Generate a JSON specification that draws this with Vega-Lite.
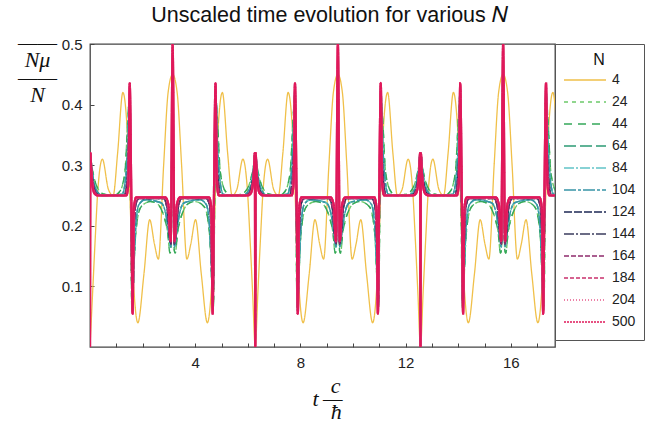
{
"$schema":"https://vega.github.io/schema/vega-lite/v6.json",
"width":465,"height":303,
"autosize":{"type":"none"},
"padding":{"left":90,"top":44,"right":91,"bottom":77},
"background":"white",
"title":{"text":"Unscaled time evolution for various 𝑁","font":"Liberation Sans","fontSize":21.5,"fontWeight":"normal","color":"#111","anchor":"middle","frame":"group","dx":7,"offset":5},
"config":{
"view":{"stroke":"#444","strokeWidth":1.3},
"axis":{"labelFont":"Liberation Sans","labelFontSize":15,"labelColor":"#222","titleFont":"Liberation Serif","titleFontStyle":"italic","titleFontWeight":"normal","titleFontSize":22,"titleColor":"#111","tickColor":"#444","domain":false,"grid":false},
"legend":{"orient":"right","offset":0,"padding":8,"strokeColor":"#555","fillColor":"white","symbolType":"stroke","symbolSize":1764,"symbolStrokeWidth":1.5,"clipHeight":20,"rowPadding":2,"titlePadding":2,"titleFontSize":16,"titleFontWeight":"normal","titleFont":"Liberation Sans","titleColor":"#111","titleAnchor":"middle","labelFont":"Liberation Sans","labelFontSize":14,"labelColor":"#222","labelOffset":5}
},
"datasets":{
"dY":[{"t":0,"4":0},{"t":0.1,"4":0.09},{"t":0.2,"4":0.18},{"t":0.3,"4":0.26},{"t":0.47,"4":0.31},{"t":0.7,"4":0.26},{"t":0.88,"4":0.25},{"t":1.05,"4":0.32},{"t":1.25,"4":0.42},{"t":1.45,"4":0.33},{"t":1.6,"4":0.15},{"t":1.82,"4":0.04},{"t":2.05,"4":0.12},{"t":2.27,"4":0.21},{"t":2.45,"4":0.17},{"t":2.6,"4":0.145},{"t":2.8,"4":0.3},{"t":2.97,"4":0.42},{"t":3.142,"4":0.45},{"t":3.313,"4":0.42},{"t":3.483,"4":0.3},{"t":3.683,"4":0.145},{"t":3.833,"4":0.17},{"t":4.013,"4":0.21},{"t":4.233,"4":0.12},{"t":4.463,"4":0.04},{"t":4.683,"4":0.15},{"t":4.833,"4":0.33},{"t":5.033,"4":0.42},{"t":5.233,"4":0.32},{"t":5.403,"4":0.25},{"t":5.583,"4":0.26},{"t":5.813,"4":0.31},{"t":5.983,"4":0.26},{"t":6.083,"4":0.18},{"t":6.183,"4":0.09},
{"t":6.283,"4":0},{"t":6.383,"4":0.09},{"t":6.483,"4":0.18},{"t":6.583,"4":0.26},{"t":6.753,"4":0.31},{"t":6.983,"4":0.26},{"t":7.163,"4":0.25},{"t":7.333,"4":0.32},{"t":7.533,"4":0.42},{"t":7.733,"4":0.33},{"t":7.883,"4":0.15},{"t":8.103,"4":0.04},{"t":8.333,"4":0.12},{"t":8.553,"4":0.21},{"t":8.733,"4":0.17},{"t":8.883,"4":0.145},{"t":9.083,"4":0.3},{"t":9.253,"4":0.42},{"t":9.425,"4":0.45},{"t":9.596,"4":0.42},{"t":9.766,"4":0.3},{"t":9.966,"4":0.145},{"t":10.116,"4":0.17},{"t":10.296,"4":0.21},{"t":10.516,"4":0.12},{"t":10.746,"4":0.04},{"t":10.966,"4":0.15},{"t":11.116,"4":0.33},{"t":11.316,"4":0.42},{"t":11.516,"4":0.32},{"t":11.686,"4":0.25},{"t":11.866,"4":0.26},{"t":12.096,"4":0.31},{"t":12.266,"4":0.26},{"t":12.366,"4":0.18},{"t":12.466,"4":0.09},
{"t":12.566,"4":0},{"t":12.666,"4":0.09},{"t":12.766,"4":0.18},{"t":12.866,"4":0.26},{"t":13.036,"4":0.31},{"t":13.266,"4":0.26},{"t":13.446,"4":0.25},{"t":13.616,"4":0.32},{"t":13.816,"4":0.42},{"t":14.016,"4":0.33},{"t":14.166,"4":0.15},{"t":14.386,"4":0.04},{"t":14.616,"4":0.12},{"t":14.836,"4":0.21},{"t":15.016,"4":0.17},{"t":15.166,"4":0.145},{"t":15.366,"4":0.3},{"t":15.536,"4":0.42},{"t":15.708,"4":0.45},{"t":15.879,"4":0.42},{"t":16.049,"4":0.3},{"t":16.249,"4":0.145},{"t":16.399,"4":0.17},{"t":16.579,"4":0.21},{"t":16.799,"4":0.12},{"t":17.029,"4":0.04},{"t":17.249,"4":0.15},{"t":17.399,"4":0.33},{"t":17.599,"4":0.42},{"t":17.799,"4":0.32}],
"dA":[{"t":0,"24":0,"44":0},{"t":0.02,"24":0.31,"44":0.31},{"t":0.08,"24":0.295,"44":0.295},{"t":0.2,"24":0.272,"44":0.272},{"t":0.35,"24":0.258,"44":0.258},{"t":0.55,"24":0.252,"44":0.252},{"t":0.9,"24":0.25,"44":0.25},{"t":1.1,"24":0.255,"44":0.255},{"t":1.25,"24":0.27,"44":0.27},{"t":1.35,"24":0.3,"44":0.3},{"t":1.43,"24":0.37,"44":0.37},{"t":1.48,"24":0.4,"44":0.4},{"t":1.54,"24":0.25,"44":0.25},{"t":1.59,"24":0.065,"44":0.065},{"t":1.63,"24":0.08,"44":0.08},{"t":1.7,"24":0.16,"44":0.16},{"t":1.8,"24":0.21,"44":0.21},{"t":1.95,"24":0.232,"44":0.232},{"t":2.3,"24":0.24,"44":0.24},{"t":2.5,"24":0.238,"44":0.238},{"t":2.7,"24":0.228,"44":0.228},{"t":2.85,"24":0.21,"44":0.21},{"t":2.95,"24":0.19,"44":0.19},{"t":3.04,"24":0.155,"44":0.155},{"t":3.08,"24":0.16,"44":0.16},{"t":3.142,"24":0.42,"44":0.42},{"t":3.203,"24":0.16,"44":0.16},{"t":3.243,"24":0.155,"44":0.155},{"t":3.333,"24":0.19,"44":0.19},{"t":3.433,"24":0.21,"44":0.21},{"t":3.583,"24":0.228,"44":0.228},{"t":3.783,"24":0.238,"44":0.238},{"t":3.983,"24":0.24,"44":0.24},{"t":4.333,"24":0.232,"44":0.232},{"t":4.483,"24":0.21,"44":0.21},{"t":4.583,"24":0.16,"44":0.16},{"t":4.653,"24":0.08,"44":0.08},{"t":4.693,"24":0.065,"44":0.065},{"t":4.743,"24":0.25,"44":0.25},{"t":4.803,"24":0.4,"44":0.4},{"t":4.853,"24":0.37,"44":0.37},{"t":4.933,"24":0.3,"44":0.3},{"t":5.033,"24":0.27,"44":0.27},{"t":5.183,"24":0.255,"44":0.255},{"t":5.383,"24":0.25,"44":0.25},{"t":5.733,"24":0.252,"44":0.252},{"t":5.933,"24":0.258,"44":0.258},{"t":6.083,"24":0.272,"44":0.272},{"t":6.203,"24":0.295,"44":0.295},{"t":6.263,"24":0.31,"44":0.31},
{"t":6.283,"24":0,"44":0},{"t":6.303,"24":0.31,"44":0.31},{"t":6.363,"24":0.295,"44":0.295},{"t":6.483,"24":0.272,"44":0.272},{"t":6.633,"24":0.258,"44":0.258},{"t":6.833,"24":0.252,"44":0.252},{"t":7.183,"24":0.25,"44":0.25},{"t":7.383,"24":0.255,"44":0.255},{"t":7.533,"24":0.27,"44":0.27},{"t":7.633,"24":0.3,"44":0.3},{"t":7.713,"24":0.37,"44":0.37},{"t":7.763,"24":0.4,"44":0.4},{"t":7.823,"24":0.25,"44":0.25},{"t":7.873,"24":0.065,"44":0.065},{"t":7.913,"24":0.08,"44":0.08},{"t":7.983,"24":0.16,"44":0.16},{"t":8.083,"24":0.21,"44":0.21},{"t":8.233,"24":0.232,"44":0.232},{"t":8.583,"24":0.24,"44":0.24},{"t":8.783,"24":0.238,"44":0.238},{"t":8.983,"24":0.228,"44":0.228},{"t":9.133,"24":0.21,"44":0.21},{"t":9.233,"24":0.19,"44":0.19},{"t":9.323,"24":0.155,"44":0.155},{"t":9.363,"24":0.16,"44":0.16},{"t":9.425,"24":0.42,"44":0.42},{"t":9.486,"24":0.16,"44":0.16},{"t":9.526,"24":0.155,"44":0.155},{"t":9.616,"24":0.19,"44":0.19},{"t":9.716,"24":0.21,"44":0.21},{"t":9.866,"24":0.228,"44":0.228},{"t":10.066,"24":0.238,"44":0.238},{"t":10.266,"24":0.24,"44":0.24},{"t":10.616,"24":0.232,"44":0.232},{"t":10.766,"24":0.21,"44":0.21},{"t":10.866,"24":0.16,"44":0.16},{"t":10.936,"24":0.08,"44":0.08},{"t":10.976,"24":0.065,"44":0.065},{"t":11.026,"24":0.25,"44":0.25},{"t":11.086,"24":0.4,"44":0.4},{"t":11.136,"24":0.37,"44":0.37},{"t":11.216,"24":0.3,"44":0.3},{"t":11.316,"24":0.27,"44":0.27},{"t":11.466,"24":0.255,"44":0.255},{"t":11.666,"24":0.25,"44":0.25},{"t":12.016,"24":0.252,"44":0.252},{"t":12.216,"24":0.258,"44":0.258},{"t":12.366,"24":0.272,"44":0.272},{"t":12.486,"24":0.295,"44":0.295},{"t":12.546,"24":0.31,"44":0.31},
{"t":12.566,"24":0,"44":0},{"t":12.586,"24":0.31,"44":0.31},{"t":12.646,"24":0.295,"44":0.295},{"t":12.766,"24":0.272,"44":0.272},{"t":12.916,"24":0.258,"44":0.258},{"t":13.116,"24":0.252,"44":0.252},{"t":13.466,"24":0.25,"44":0.25},{"t":13.666,"24":0.255,"44":0.255},{"t":13.816,"24":0.27,"44":0.27},{"t":13.916,"24":0.3,"44":0.3},{"t":13.996,"24":0.37,"44":0.37},{"t":14.046,"24":0.4,"44":0.4},{"t":14.106,"24":0.25,"44":0.25},{"t":14.156,"24":0.065,"44":0.065},{"t":14.196,"24":0.08,"44":0.08},{"t":14.266,"24":0.16,"44":0.16},{"t":14.366,"24":0.21,"44":0.21},{"t":14.516,"24":0.232,"44":0.232},{"t":14.866,"24":0.24,"44":0.24},{"t":15.066,"24":0.238,"44":0.238},{"t":15.266,"24":0.228,"44":0.228},{"t":15.416,"24":0.21,"44":0.21},{"t":15.516,"24":0.19,"44":0.19},{"t":15.606,"24":0.155,"44":0.155},{"t":15.646,"24":0.16,"44":0.16},{"t":15.708,"24":0.42,"44":0.42},{"t":15.769,"24":0.16,"44":0.16},{"t":15.809,"24":0.155,"44":0.155},{"t":15.899,"24":0.19,"44":0.19},{"t":15.999,"24":0.21,"44":0.21},{"t":16.149,"24":0.228,"44":0.228},{"t":16.349,"24":0.238,"44":0.238},{"t":16.549,"24":0.24,"44":0.24},{"t":16.899,"24":0.232,"44":0.232},{"t":17.049,"24":0.21,"44":0.21},{"t":17.149,"24":0.16,"44":0.16},{"t":17.219,"24":0.08,"44":0.08},{"t":17.259,"24":0.065,"44":0.065},{"t":17.309,"24":0.25,"44":0.25},{"t":17.369,"24":0.4,"44":0.4},{"t":17.419,"24":0.37,"44":0.37},{"t":17.499,"24":0.3,"44":0.3},{"t":17.599,"24":0.27,"44":0.27},{"t":17.749,"24":0.255,"44":0.255}],
"dB":[{"t":0,"64":0,"84":0,"104":0},{"t":0.015,"64":0.32,"84":0.32,"104":0.32},{"t":0.07,"64":0.295,"84":0.295,"104":0.295},{"t":0.17,"64":0.268,"84":0.268,"104":0.268},{"t":0.3,"64":0.255,"84":0.255,"104":0.255},{"t":0.48,"64":0.25,"84":0.25,"104":0.25},{"t":1.22,"64":0.252,"84":0.252,"104":0.252},{"t":1.33,"64":0.27,"84":0.27,"104":0.27},{"t":1.43,"64":0.33,"84":0.33,"104":0.33},{"t":1.5,"64":0.42,"84":0.42,"104":0.42},{"t":1.56,"64":0.25,"84":0.25,"104":0.25},{"t":1.61,"64":0.06,"84":0.06,"104":0.06},{"t":1.66,"64":0.12,"84":0.12,"104":0.12},{"t":1.74,"64":0.2,"84":0.2,"104":0.2},{"t":1.86,"64":0.235,"84":0.235,"104":0.235},{"t":2.1,"64":0.243,"84":0.243,"104":0.243},{"t":2.7,"64":0.238,"84":0.238,"104":0.238},{"t":2.88,"64":0.22,"84":0.22,"104":0.22},{"t":3.0,"64":0.185,"84":0.185,"104":0.185},{"t":3.07,"64":0.165,"84":0.165,"104":0.165},{"t":3.142,"64":0.46,"84":0.46,"104":0.46},{"t":3.213,"64":0.165,"84":0.165,"104":0.165},{"t":3.283,"64":0.185,"84":0.185,"104":0.185},{"t":3.403,"64":0.22,"84":0.22,"104":0.22},{"t":3.583,"64":0.238,"84":0.238,"104":0.238},{"t":4.183,"64":0.243,"84":0.243,"104":0.243},{"t":4.423,"64":0.235,"84":0.235,"104":0.235},{"t":4.543,"64":0.2,"84":0.2,"104":0.2},{"t":4.623,"64":0.12,"84":0.12,"104":0.12},{"t":4.673,"64":0.06,"84":0.06,"104":0.06},{"t":4.723,"64":0.25,"84":0.25,"104":0.25},{"t":4.783,"64":0.42,"84":0.42,"104":0.42},{"t":4.853,"64":0.33,"84":0.33,"104":0.33},{"t":4.953,"64":0.27,"84":0.27,"104":0.27},{"t":5.063,"64":0.252,"84":0.252,"104":0.252},{"t":5.803,"64":0.25,"84":0.25,"104":0.25},{"t":5.983,"64":0.255,"84":0.255,"104":0.255},{"t":6.113,"64":0.268,"84":0.268,"104":0.268},{"t":6.213,"64":0.295,"84":0.295,"104":0.295},{"t":6.268,"64":0.32,"84":0.32,"104":0.32},
{"t":6.283,"64":0,"84":0,"104":0},{"t":6.298,"64":0.32,"84":0.32,"104":0.32},{"t":6.353,"64":0.295,"84":0.295,"104":0.295},{"t":6.453,"64":0.268,"84":0.268,"104":0.268},{"t":6.583,"64":0.255,"84":0.255,"104":0.255},{"t":6.763,"64":0.25,"84":0.25,"104":0.25},{"t":7.503,"64":0.252,"84":0.252,"104":0.252},{"t":7.613,"64":0.27,"84":0.27,"104":0.27},{"t":7.713,"64":0.33,"84":0.33,"104":0.33},{"t":7.783,"64":0.42,"84":0.42,"104":0.42},{"t":7.843,"64":0.25,"84":0.25,"104":0.25},{"t":7.893,"64":0.06,"84":0.06,"104":0.06},{"t":7.943,"64":0.12,"84":0.12,"104":0.12},{"t":8.023,"64":0.2,"84":0.2,"104":0.2},{"t":8.143,"64":0.235,"84":0.235,"104":0.235},{"t":8.383,"64":0.243,"84":0.243,"104":0.243},{"t":8.983,"64":0.238,"84":0.238,"104":0.238},{"t":9.163,"64":0.22,"84":0.22,"104":0.22},{"t":9.283,"64":0.185,"84":0.185,"104":0.185},{"t":9.353,"64":0.165,"84":0.165,"104":0.165},{"t":9.425,"64":0.46,"84":0.46,"104":0.46},{"t":9.496,"64":0.165,"84":0.165,"104":0.165},{"t":9.566,"64":0.185,"84":0.185,"104":0.185},{"t":9.686,"64":0.22,"84":0.22,"104":0.22},{"t":9.866,"64":0.238,"84":0.238,"104":0.238},{"t":10.466,"64":0.243,"84":0.243,"104":0.243},{"t":10.706,"64":0.235,"84":0.235,"104":0.235},{"t":10.826,"64":0.2,"84":0.2,"104":0.2},{"t":10.906,"64":0.12,"84":0.12,"104":0.12},{"t":10.956,"64":0.06,"84":0.06,"104":0.06},{"t":11.006,"64":0.25,"84":0.25,"104":0.25},{"t":11.066,"64":0.42,"84":0.42,"104":0.42},{"t":11.136,"64":0.33,"84":0.33,"104":0.33},{"t":11.236,"64":0.27,"84":0.27,"104":0.27},{"t":11.346,"64":0.252,"84":0.252,"104":0.252},{"t":12.086,"64":0.25,"84":0.25,"104":0.25},{"t":12.266,"64":0.255,"84":0.255,"104":0.255},{"t":12.396,"64":0.268,"84":0.268,"104":0.268},{"t":12.496,"64":0.295,"84":0.295,"104":0.295},{"t":12.551,"64":0.32,"84":0.32,"104":0.32},
{"t":12.566,"64":0,"84":0,"104":0},{"t":12.581,"64":0.32,"84":0.32,"104":0.32},{"t":12.636,"64":0.295,"84":0.295,"104":0.295},{"t":12.736,"64":0.268,"84":0.268,"104":0.268},{"t":12.866,"64":0.255,"84":0.255,"104":0.255},{"t":13.046,"64":0.25,"84":0.25,"104":0.25},{"t":13.786,"64":0.252,"84":0.252,"104":0.252},{"t":13.896,"64":0.27,"84":0.27,"104":0.27},{"t":13.996,"64":0.33,"84":0.33,"104":0.33},{"t":14.066,"64":0.42,"84":0.42,"104":0.42},{"t":14.126,"64":0.25,"84":0.25,"104":0.25},{"t":14.176,"64":0.06,"84":0.06,"104":0.06},{"t":14.226,"64":0.12,"84":0.12,"104":0.12},{"t":14.306,"64":0.2,"84":0.2,"104":0.2},{"t":14.426,"64":0.235,"84":0.235,"104":0.235},{"t":14.666,"64":0.243,"84":0.243,"104":0.243},{"t":15.266,"64":0.238,"84":0.238,"104":0.238},{"t":15.446,"64":0.22,"84":0.22,"104":0.22},{"t":15.566,"64":0.185,"84":0.185,"104":0.185},{"t":15.636,"64":0.165,"84":0.165,"104":0.165},{"t":15.708,"64":0.46,"84":0.46,"104":0.46},{"t":15.779,"64":0.165,"84":0.165,"104":0.165},{"t":15.849,"64":0.185,"84":0.185,"104":0.185},{"t":15.969,"64":0.22,"84":0.22,"104":0.22},{"t":16.149,"64":0.238,"84":0.238,"104":0.238},{"t":16.749,"64":0.243,"84":0.243,"104":0.243},{"t":16.989,"64":0.235,"84":0.235,"104":0.235},{"t":17.109,"64":0.2,"84":0.2,"104":0.2},{"t":17.189,"64":0.12,"84":0.12,"104":0.12},{"t":17.239,"64":0.06,"84":0.06,"104":0.06},{"t":17.289,"64":0.25,"84":0.25,"104":0.25},{"t":17.349,"64":0.42,"84":0.42,"104":0.42},{"t":17.419,"64":0.33,"84":0.33,"104":0.33},{"t":17.519,"64":0.27,"84":0.27,"104":0.27},{"t":17.629,"64":0.252,"84":0.252,"104":0.252},{"t":18.369,"64":0.25,"84":0.25,"104":0.25}],
"dC":[{"t":0,"124":0,"144":0,"164":0},{"t":0.015,"124":0.32,"144":0.32,"164":0.32},{"t":0.06,"124":0.29,"144":0.29,"164":0.29},{"t":0.14,"124":0.265,"144":0.265,"164":0.265},{"t":0.25,"124":0.253,"144":0.253,"164":0.253},{"t":0.4,"124":0.25,"144":0.25,"164":0.25},{"t":1.3,"124":0.25,"144":0.25,"164":0.25},{"t":1.4,"124":0.27,"144":0.27,"164":0.27},{"t":1.47,"124":0.33,"144":0.33,"164":0.33},{"t":1.51,"124":0.43,"144":0.43,"164":0.43},{"t":1.565,"124":0.25,"144":0.25,"164":0.25},{"t":1.615,"124":0.058,"144":0.058,"164":0.058},{"t":1.66,"124":0.17,"144":0.17,"164":0.17},{"t":1.74,"124":0.235,"144":0.235,"164":0.235},{"t":1.86,"124":0.245,"144":0.245,"164":0.245},{"t":2.8,"124":0.245,"144":0.245,"164":0.245},{"t":2.93,"124":0.23,"144":0.23,"164":0.23},{"t":3.03,"124":0.18,"144":0.18,"164":0.18},{"t":3.08,"124":0.17,"144":0.17,"164":0.17},{"t":3.142,"124":0.48,"144":0.48,"164":0.48},{"t":3.203,"124":0.17,"144":0.17,"164":0.17},{"t":3.253,"124":0.18,"144":0.18,"164":0.18},{"t":3.353,"124":0.23,"144":0.23,"164":0.23},{"t":3.483,"124":0.245,"144":0.245,"164":0.245},{"t":4.423,"124":0.245,"144":0.245,"164":0.245},{"t":4.543,"124":0.235,"144":0.235,"164":0.235},{"t":4.623,"124":0.17,"144":0.17,"164":0.17},{"t":4.668,"124":0.058,"144":0.058,"164":0.058},{"t":4.718,"124":0.25,"144":0.25,"164":0.25},{"t":4.773,"124":0.43,"144":0.43,"164":0.43},{"t":4.813,"124":0.33,"144":0.33,"164":0.33},{"t":4.883,"124":0.27,"144":0.27,"164":0.27},{"t":4.983,"124":0.25,"144":0.25,"164":0.25},{"t":5.883,"124":0.25,"144":0.25,"164":0.25},{"t":6.033,"124":0.253,"144":0.253,"164":0.253},{"t":6.143,"124":0.265,"144":0.265,"164":0.265},{"t":6.223,"124":0.29,"144":0.29,"164":0.29},{"t":6.268,"124":0.32,"144":0.32,"164":0.32},
{"t":6.283,"124":0,"144":0,"164":0},{"t":6.298,"124":0.32,"144":0.32,"164":0.32},{"t":6.343,"124":0.29,"144":0.29,"164":0.29},{"t":6.423,"124":0.265,"144":0.265,"164":0.265},{"t":6.533,"124":0.253,"144":0.253,"164":0.253},{"t":6.683,"124":0.25,"144":0.25,"164":0.25},{"t":7.583,"124":0.25,"144":0.25,"164":0.25},{"t":7.683,"124":0.27,"144":0.27,"164":0.27},{"t":7.753,"124":0.33,"144":0.33,"164":0.33},{"t":7.793,"124":0.43,"144":0.43,"164":0.43},{"t":7.848,"124":0.25,"144":0.25,"164":0.25},{"t":7.898,"124":0.058,"144":0.058,"164":0.058},{"t":7.943,"124":0.17,"144":0.17,"164":0.17},{"t":8.023,"124":0.235,"144":0.235,"164":0.235},{"t":8.143,"124":0.245,"144":0.245,"164":0.245},{"t":9.083,"124":0.245,"144":0.245,"164":0.245},{"t":9.213,"124":0.23,"144":0.23,"164":0.23},{"t":9.313,"124":0.18,"144":0.18,"164":0.18},{"t":9.363,"124":0.17,"144":0.17,"164":0.17},{"t":9.425,"124":0.48,"144":0.48,"164":0.48},{"t":9.486,"124":0.17,"144":0.17,"164":0.17},{"t":9.536,"124":0.18,"144":0.18,"164":0.18},{"t":9.636,"124":0.23,"144":0.23,"164":0.23},{"t":9.766,"124":0.245,"144":0.245,"164":0.245},{"t":10.706,"124":0.245,"144":0.245,"164":0.245},{"t":10.826,"124":0.235,"144":0.235,"164":0.235},{"t":10.906,"124":0.17,"144":0.17,"164":0.17},{"t":10.951,"124":0.058,"144":0.058,"164":0.058},{"t":11.001,"124":0.25,"144":0.25,"164":0.25},{"t":11.056,"124":0.43,"144":0.43,"164":0.43},{"t":11.096,"124":0.33,"144":0.33,"164":0.33},{"t":11.166,"124":0.27,"144":0.27,"164":0.27},{"t":11.266,"124":0.25,"144":0.25,"164":0.25},{"t":12.166,"124":0.25,"144":0.25,"164":0.25},{"t":12.316,"124":0.253,"144":0.253,"164":0.253},{"t":12.426,"124":0.265,"144":0.265,"164":0.265},{"t":12.506,"124":0.29,"144":0.29,"164":0.29},{"t":12.551,"124":0.32,"144":0.32,"164":0.32},
{"t":12.566,"124":0,"144":0,"164":0},{"t":12.581,"124":0.32,"144":0.32,"164":0.32},{"t":12.626,"124":0.29,"144":0.29,"164":0.29},{"t":12.706,"124":0.265,"144":0.265,"164":0.265},{"t":12.816,"124":0.253,"144":0.253,"164":0.253},{"t":12.966,"124":0.25,"144":0.25,"164":0.25},{"t":13.866,"124":0.25,"144":0.25,"164":0.25},{"t":13.966,"124":0.27,"144":0.27,"164":0.27},{"t":14.036,"124":0.33,"144":0.33,"164":0.33},{"t":14.076,"124":0.43,"144":0.43,"164":0.43},{"t":14.131,"124":0.25,"144":0.25,"164":0.25},{"t":14.181,"124":0.058,"144":0.058,"164":0.058},{"t":14.226,"124":0.17,"144":0.17,"164":0.17},{"t":14.306,"124":0.235,"144":0.235,"164":0.235},{"t":14.426,"124":0.245,"144":0.245,"164":0.245},{"t":15.366,"124":0.245,"144":0.245,"164":0.245},{"t":15.496,"124":0.23,"144":0.23,"164":0.23},{"t":15.596,"124":0.18,"144":0.18,"164":0.18},{"t":15.646,"124":0.17,"144":0.17,"164":0.17},{"t":15.708,"124":0.48,"144":0.48,"164":0.48},{"t":15.769,"124":0.17,"144":0.17,"164":0.17},{"t":15.819,"124":0.18,"144":0.18,"164":0.18},{"t":15.919,"124":0.23,"144":0.23,"164":0.23},{"t":16.049,"124":0.245,"144":0.245,"164":0.245},{"t":16.989,"124":0.245,"144":0.245,"164":0.245},{"t":17.109,"124":0.235,"144":0.235,"164":0.235},{"t":17.189,"124":0.17,"144":0.17,"164":0.17},{"t":17.234,"124":0.058,"144":0.058,"164":0.058},{"t":17.284,"124":0.25,"144":0.25,"164":0.25},{"t":17.339,"124":0.43,"144":0.43,"164":0.43},{"t":17.379,"124":0.33,"144":0.33,"164":0.33},{"t":17.449,"124":0.27,"144":0.27,"164":0.27},{"t":17.549,"124":0.25,"144":0.25,"164":0.25},{"t":18.449,"124":0.25,"144":0.25,"164":0.25}],
"dD":[{"t":0,"184":0,"204":0,"500":0},{"t":0.015,"184":0.32,"204":0.32,"500":0.32},{"t":0.05,"184":0.29,"204":0.29,"500":0.29},{"t":0.1,"184":0.265,"204":0.265,"500":0.265},{"t":0.18,"184":0.253,"204":0.253,"500":0.253},{"t":0.3,"184":0.25,"204":0.25,"500":0.25},{"t":1.38,"184":0.25,"204":0.25,"500":0.25},{"t":1.46,"184":0.27,"204":0.27,"500":0.27},{"t":1.51,"184":0.435,"204":0.435,"500":0.435},{"t":1.57,"184":0.25,"204":0.25,"500":0.25},{"t":1.62,"184":0.055,"204":0.055,"500":0.055},{"t":1.67,"184":0.23,"204":0.23,"500":0.23},{"t":1.76,"184":0.247,"204":0.247,"500":0.247},{"t":2.86,"184":0.247,"204":0.247,"500":0.247},{"t":2.98,"184":0.235,"204":0.235,"500":0.235},{"t":3.07,"184":0.175,"204":0.175,"500":0.175},{"t":3.142,"184":0.5,"204":0.5,"500":0.5},{"t":3.213,"184":0.175,"204":0.175,"500":0.175},{"t":3.303,"184":0.235,"204":0.235,"500":0.235},{"t":3.423,"184":0.247,"204":0.247,"500":0.247},{"t":4.523,"184":0.247,"204":0.247,"500":0.247},{"t":4.613,"184":0.23,"204":0.23,"500":0.23},{"t":4.663,"184":0.055,"204":0.055,"500":0.055},{"t":4.713,"184":0.25,"204":0.25,"500":0.25},{"t":4.773,"184":0.435,"204":0.435,"500":0.435},{"t":4.823,"184":0.27,"204":0.27,"500":0.27},{"t":4.903,"184":0.25,"204":0.25,"500":0.25},{"t":5.983,"184":0.25,"204":0.25,"500":0.25},{"t":6.103,"184":0.253,"204":0.253,"500":0.253},{"t":6.183,"184":0.265,"204":0.265,"500":0.265},{"t":6.233,"184":0.29,"204":0.29,"500":0.29},{"t":6.268,"184":0.32,"204":0.32,"500":0.32},
{"t":6.283,"184":0,"204":0,"500":0},{"t":6.298,"184":0.32,"204":0.32,"500":0.32},{"t":6.333,"184":0.29,"204":0.29,"500":0.29},{"t":6.383,"184":0.265,"204":0.265,"500":0.265},{"t":6.463,"184":0.253,"204":0.253,"500":0.253},{"t":6.583,"184":0.25,"204":0.25,"500":0.25},{"t":7.663,"184":0.25,"204":0.25,"500":0.25},{"t":7.743,"184":0.27,"204":0.27,"500":0.27},{"t":7.793,"184":0.435,"204":0.435,"500":0.435},{"t":7.853,"184":0.25,"204":0.25,"500":0.25},{"t":7.903,"184":0.055,"204":0.055,"500":0.055},{"t":7.953,"184":0.23,"204":0.23,"500":0.23},{"t":8.043,"184":0.247,"204":0.247,"500":0.247},{"t":9.143,"184":0.247,"204":0.247,"500":0.247},{"t":9.263,"184":0.235,"204":0.235,"500":0.235},{"t":9.353,"184":0.175,"204":0.175,"500":0.175},{"t":9.425,"184":0.5,"204":0.5,"500":0.5},{"t":9.496,"184":0.175,"204":0.175,"500":0.175},{"t":9.586,"184":0.235,"204":0.235,"500":0.235},{"t":9.706,"184":0.247,"204":0.247,"500":0.247},{"t":10.806,"184":0.247,"204":0.247,"500":0.247},{"t":10.896,"184":0.23,"204":0.23,"500":0.23},{"t":10.946,"184":0.055,"204":0.055,"500":0.055},{"t":10.996,"184":0.25,"204":0.25,"500":0.25},{"t":11.056,"184":0.435,"204":0.435,"500":0.435},{"t":11.106,"184":0.27,"204":0.27,"500":0.27},{"t":11.186,"184":0.25,"204":0.25,"500":0.25},{"t":12.266,"184":0.25,"204":0.25,"500":0.25},{"t":12.386,"184":0.253,"204":0.253,"500":0.253},{"t":12.466,"184":0.265,"204":0.265,"500":0.265},{"t":12.516,"184":0.29,"204":0.29,"500":0.29},{"t":12.551,"184":0.32,"204":0.32,"500":0.32},
{"t":12.566,"184":0,"204":0,"500":0},{"t":12.581,"184":0.32,"204":0.32,"500":0.32},{"t":12.616,"184":0.29,"204":0.29,"500":0.29},{"t":12.666,"184":0.265,"204":0.265,"500":0.265},{"t":12.746,"184":0.253,"204":0.253,"500":0.253},{"t":12.866,"184":0.25,"204":0.25,"500":0.25},{"t":13.946,"184":0.25,"204":0.25,"500":0.25},{"t":14.026,"184":0.27,"204":0.27,"500":0.27},{"t":14.076,"184":0.435,"204":0.435,"500":0.435},{"t":14.136,"184":0.25,"204":0.25,"500":0.25},{"t":14.186,"184":0.055,"204":0.055,"500":0.055},{"t":14.236,"184":0.23,"204":0.23,"500":0.23},{"t":14.326,"184":0.247,"204":0.247,"500":0.247},{"t":15.426,"184":0.247,"204":0.247,"500":0.247},{"t":15.546,"184":0.235,"204":0.235,"500":0.235},{"t":15.636,"184":0.175,"204":0.175,"500":0.175},{"t":15.708,"184":0.5,"204":0.5,"500":0.5},{"t":15.779,"184":0.175,"204":0.175,"500":0.175},{"t":15.869,"184":0.235,"204":0.235,"500":0.235},{"t":15.989,"184":0.247,"204":0.247,"500":0.247},{"t":17.089,"184":0.247,"204":0.247,"500":0.247},{"t":17.179,"184":0.23,"204":0.23,"500":0.23},{"t":17.229,"184":0.055,"204":0.055,"500":0.055},{"t":17.279,"184":0.25,"204":0.25,"500":0.25},{"t":17.339,"184":0.435,"204":0.435,"500":0.435},{"t":17.389,"184":0.27,"204":0.27,"500":0.27},{"t":17.469,"184":0.25,"204":0.25,"500":0.25},{"t":18.0,"184":0.25,"204":0.25,"500":0.25}]
},
"encoding":{
"x":{"field":"t","type":"quantitative","scale":{"domain":[0,17.68],"nice":false,"zero":false},
 "axis":{"values":[1,2,3,4,5,6,7,8,9,10,11,12,13,14,15,16,17],"labelExpr":"datum.value % 4 === 0 ? datum.label : ''","tickSize":-4,"labelPadding":12,
 "title":["\u200b\u2002\u2004c","t\u2009\u2014","\u200b\u2002\u2004\u0127"],"titleAngle":0,"titleAlign":"left","titleBaseline":"alphabetic","titleX":222,"titleY":45,"titleLineHeight":13}},
"y":{"field":"v","type":"quantitative","scale":{"domain":[0,0.5],"nice":false},
 "axis":{"values":[0.1,0.2,0.3,0.4,0.5],"tickSize":-4,"labelPadding":12,
 "title":["\u2014\u2014","N\u03bc","\u2014\u2014","N"],"titleAngle":0,"titleAlign":"center","titleBaseline":"alphabetic","titleX":-53,"titleY":5,"titleLineHeight":17.5}},
"color":{"field":"N","type":"nominal","title":"N",
 "scale":{"domain":["4","24","44","64","84","104","124","144","164","184","204","500"],
 "range":["#f0c04a","#6cc96a","#34a85a","#2c9a74","#62c4c8","#3794a6","#1c2754","#3b3d5e","#8e2b6c","#c9306c","#e8588a","#e0185a"]}},
"strokeDash":{"field":"N","type":"nominal","title":"N",
 "scale":{"domain":["4","24","44","64","84","104","124","144","164","184","204","500"],
 "range":[[1,0],[4,4],[8,6],[12,4],[10,2,2,2],[12,2,3,2],[8,2],[10,2,2,2],[5,2],[4,2],[1,2],[2,1]]}}
},
"layer":[
{"data":{"name":"dY"},"transform":[{"fold":["4"],"as":["N","v"]}],"mark":{"type":"line","interpolate":"monotone","strokeWidth":1.3,"clip":true}},
{"data":{"name":"dA"},"transform":[{"fold":["24","44"],"as":["N","v"]}],"mark":{"type":"line","interpolate":"monotone","strokeWidth":1.4,"clip":true}},
{"data":{"name":"dB"},"transform":[{"fold":["64","84","104"],"as":["N","v"]}],"mark":{"type":"line","interpolate":"monotone","strokeWidth":1.4,"clip":true}},
{"data":{"name":"dC"},"transform":[{"fold":["124","144","164"],"as":["N","v"]}],"mark":{"type":"line","interpolate":"monotone","strokeWidth":1.6,"clip":true}},
{"data":{"name":"dD"},"transform":[{"fold":["184","204","500"],"as":["N","v"]}],"mark":{"type":"line","interpolate":"monotone","strokeWidth":2.2,"strokeCap":"square","clip":true}}
]
}
